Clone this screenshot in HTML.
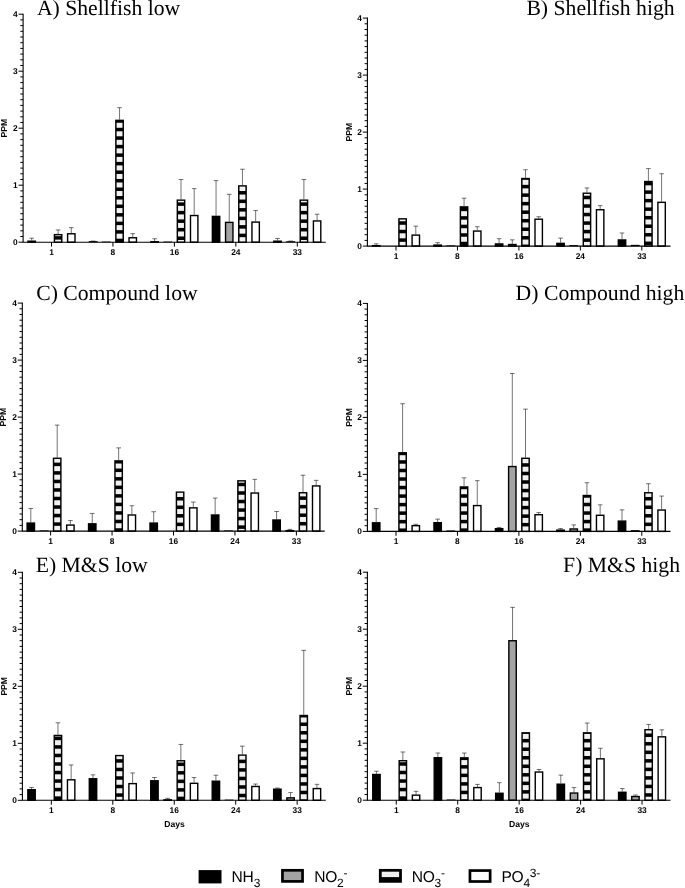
<!DOCTYPE html>
<html><head><meta charset="utf-8"><title>Figure</title>
<style>
html,body{margin:0;padding:0;background:#fff;}
svg{display:block;will-change:transform;}
text{text-rendering:geometricPrecision;}
.t{font-family:"Liberation Serif","Times New Roman",serif;font-size:21.7px;fill:#000;}
.k{font-family:"Liberation Sans",Arial,sans-serif;font-weight:bold;font-size:8.4px;fill:#000;}
.l{font-family:"Liberation Sans",Arial,sans-serif;font-weight:bold;font-size:8.6px;fill:#000;}
.g{font-family:"Liberation Sans",Arial,sans-serif;font-size:15.6px;letter-spacing:-0.25px;fill:#000;}
.s{font-size:12px;}
.ax{stroke:#000;stroke-width:1.1;fill:none;}
.tk{stroke:#000;stroke-width:1;fill:none;}
.e{stroke:#000;stroke-width:0.55;fill:none;}
.b{stroke:#000;stroke-width:1.4;}
</style></head><body>
<svg width="685" height="888" viewBox="0 0 685 888">
<rect width="685" height="888" fill="#fff"/>

<g id="panelA">
<text class="t" x="36.9" y="15.1" text-anchor="start">A) Shellfish low</text>
<path class="e" d="M31.7 240.49V238.21M29.4 238.21H34M58.1 233.94V229.94M55.8 229.94H60.4M71.3 233.08V227.66M69 227.66H73.6M93.15 241.52V241.06M90.85 241.06H95.45M119.55 119.65V107.68M117.25 107.68H121.85M132.75 237.07V233.65M130.45 233.65H135.05M154.6 241.06V238.78M152.3 238.78H156.9M181 199.45V179.5M178.7 179.5H183.3M194.2 214.84V188.62M191.9 188.62H196.5M216.05 215.69V180.64M213.75 180.64H218.35M229.25 221.68V194.32M226.95 194.32H231.55M242.45 185.2V169.24M240.15 169.24H244.75M255.65 221.39V210.56M253.35 210.56H257.95M277.5 240.49V238.49M275.2 238.49H279.8M290.7 241.63V241.06M288.4 241.06H293M303.9 199.45V179.5M301.6 179.5H306.2M317.1 220.25V214.27M314.8 214.27H319.4"/>
<rect class="b" x="28" y="241.19" width="7.4" height="1.01" fill="#000"/>
<rect class="b" x="54.4" y="234.63" width="7.4" height="7.56" fill="#000"/>
<g fill="#f1f1f1"><rect x="55.15" y="239.63" width="5.9" height="1.97"/><rect x="55.15" y="235.34" width="5.9" height="0.77"/></g>
<rect class="b" x="67.6" y="233.78" width="7.4" height="8.42" fill="#fff"/>
<rect x="88.75" y="241.12" width="8.8" height="1.08" fill="#000"/>
<rect x="101.95" y="241.57" width="8.8" height="0.63" fill="#000"/>
<rect class="b" x="115.85" y="120.35" width="7.4" height="121.85" fill="#000"/>
<g fill="#f1f1f1"><rect x="116.6" y="233.67" width="5.9" height="5"/><rect x="116.6" y="225.14" width="5.9" height="5"/><rect x="116.6" y="216.61" width="5.9" height="5"/><rect x="116.6" y="208.08" width="5.9" height="5"/><rect x="116.6" y="199.55" width="5.9" height="5"/><rect x="116.6" y="191.02" width="5.9" height="5"/><rect x="116.6" y="182.49" width="5.9" height="5"/><rect x="116.6" y="173.96" width="5.9" height="5"/><rect x="116.6" y="165.43" width="5.9" height="5"/><rect x="116.6" y="156.9" width="5.9" height="5"/><rect x="116.6" y="148.37" width="5.9" height="5"/><rect x="116.6" y="139.84" width="5.9" height="5"/><rect x="116.6" y="131.31" width="5.9" height="5"/><rect x="116.6" y="122.78" width="5.9" height="5"/></g>
<rect class="b" x="129.05" y="237.77" width="7.4" height="4.43" fill="#fff"/>
<rect class="b" x="150.9" y="241.76" width="7.4" height="0.44" fill="#000"/>
<rect x="163.4" y="241.57" width="8.8" height="0.63" fill="#000"/>
<rect class="b" x="177.3" y="200.15" width="7.4" height="42.05" fill="#000"/>
<g fill="#f1f1f1"><rect x="178.05" y="240" width="5.9" height="1.6"/><rect x="178.05" y="231.47" width="5.9" height="5"/><rect x="178.05" y="222.94" width="5.9" height="5"/><rect x="178.05" y="214.41" width="5.9" height="5"/><rect x="178.05" y="205.88" width="5.9" height="5"/><rect x="178.05" y="200.85" width="5.9" height="1.5"/></g>
<rect class="b" x="190.5" y="215.54" width="7.4" height="26.66" fill="#fff"/>
<rect class="b" x="212.35" y="216.39" width="7.4" height="25.81" fill="#000"/>
<rect class="b" x="225.55" y="222.38" width="7.4" height="19.82" fill="#a3a3a3"/>
<rect class="b" x="238.75" y="185.9" width="7.4" height="56.3" fill="#000"/>
<g fill="#f1f1f1"><rect x="239.5" y="237.19" width="5.9" height="4.41"/><rect x="239.5" y="228.66" width="5.9" height="5"/><rect x="239.5" y="220.13" width="5.9" height="5"/><rect x="239.5" y="211.6" width="5.9" height="5"/><rect x="239.5" y="203.07" width="5.9" height="5"/><rect x="239.5" y="194.54" width="5.9" height="5"/><rect x="239.5" y="186.6" width="5.9" height="4.41"/></g>
<rect class="b" x="251.95" y="222.09" width="7.4" height="20.11" fill="#fff"/>
<rect class="b" x="273.8" y="241.19" width="7.4" height="1.01" fill="#000"/>
<rect x="286.3" y="241.23" width="8.8" height="0.97" fill="#000"/>
<rect class="b" x="300.2" y="200.15" width="7.4" height="42.05" fill="#000"/>
<g fill="#f1f1f1"><rect x="300.95" y="240" width="5.9" height="1.6"/><rect x="300.95" y="231.47" width="5.9" height="5"/><rect x="300.95" y="222.94" width="5.9" height="5"/><rect x="300.95" y="214.41" width="5.9" height="5"/><rect x="300.95" y="205.88" width="5.9" height="5"/><rect x="300.95" y="200.85" width="5.9" height="1.5"/></g>
<rect class="b" x="313.4" y="220.95" width="7.4" height="21.25" fill="#fff"/>
<path class="ax" d="M23.1 13.7V242.2H325.8"/>
<path class="tk" d="M23.1 242.2H18.5M23.1 236.5H20.3M23.1 230.8H20.3M23.1 225.1H20.3M23.1 219.4H20.3M23.1 213.7H20.3M23.1 208H20.3M23.1 202.3H20.3M23.1 196.6H20.3M23.1 190.9H20.3M23.1 185.2H18.5M23.1 179.5H20.3M23.1 173.8H20.3M23.1 168.1H20.3M23.1 162.4H20.3M23.1 156.7H20.3M23.1 151H20.3M23.1 145.3H20.3M23.1 139.6H20.3M23.1 133.9H20.3M23.1 128.2H18.5M23.1 122.5H20.3M23.1 116.8H20.3M23.1 111.1H20.3M23.1 105.4H20.3M23.1 99.7H20.3M23.1 94H20.3M23.1 88.3H20.3M23.1 82.6H20.3M23.1 76.9H20.3M23.1 71.2H18.5M23.1 65.5H20.3M23.1 59.8H20.3M23.1 54.1H20.3M23.1 48.4H20.3M23.1 42.7H20.3M23.1 37H20.3M23.1 31.3H20.3M23.1 25.6H20.3M23.1 19.9H20.3M23.1 14.2H18.5M51.5 242.2V246.6M112.95 242.2V246.6M174.4 242.2V246.6M235.85 242.2V246.6M297.3 242.2V246.6"/>
<text class="k" x="17.6" y="245.15" text-anchor="end">0</text>
<text class="k" x="17.6" y="188.15" text-anchor="end">1</text>
<text class="k" x="17.6" y="131.15" text-anchor="end">2</text>
<text class="k" x="17.6" y="74.15" text-anchor="end">3</text>
<text class="k" x="17.6" y="17.15" text-anchor="end">4</text>
<text class="k" x="51.5" y="255.1" text-anchor="middle">1</text>
<text class="k" x="112.95" y="255.1" text-anchor="middle">8</text>
<text class="k" x="174.4" y="255.1" text-anchor="middle">16</text>
<text class="k" x="235.85" y="255.1" text-anchor="middle">24</text>
<text class="k" x="297.3" y="255.1" text-anchor="middle">33</text>
<text class="l" transform="translate(7.2 128.2) rotate(-90)" text-anchor="middle">PPM</text>
</g>
<g id="panelB">
<text class="t" x="674.6" y="15.1" text-anchor="end">B) Shellfish high</text>
<path class="e" d="M376.2 244.96V243.82M373.9 243.82H378.5M415.8 234.41V226.15M413.5 226.15H418.1M437.65 244.39V242.68M435.35 242.68H439.95M464.05 206.2V198.22M461.75 198.22H466.35M477.25 230.37V226.72M474.95 226.72H479.55M499.1 243.25V238.69M496.8 238.69H501.4M512.3 243.82V239.83M510 239.83H514.6M525.5 177.81V169.72M523.2 169.72H527.8M538.7 218.51V216.75M536.4 216.75H541M560.55 242.68V238.12M558.25 238.12H562.85M586.95 192.52V187.96M584.65 187.96H589.25M600.15 209.05V205.63M597.85 205.63H602.45M622 239.26V232.99M619.7 232.99H624.3M648.4 180.83V168.58M646.1 168.58H650.7M661.6 201.64V173.71M659.3 173.71H663.9"/>
<rect class="b" x="372.5" y="245.66" width="7.4" height="0.44" fill="#000"/>
<rect class="b" x="398.9" y="218.87" width="7.4" height="27.23" fill="#000"/>
<g fill="#f1f1f1"><rect x="399.65" y="241.84" width="5.9" height="3.66"/><rect x="399.65" y="233.31" width="5.9" height="5"/><rect x="399.65" y="224.78" width="5.9" height="5"/><rect x="399.65" y="219.57" width="5.9" height="1.68"/></g>
<rect class="b" x="412.1" y="235.11" width="7.4" height="10.98" fill="#fff"/>
<rect class="b" x="433.95" y="245.09" width="7.4" height="1.01" fill="#000"/>
<rect x="446.45" y="245.41" width="8.8" height="0.69" fill="#000"/>
<rect class="b" x="460.35" y="206.9" width="7.4" height="39.2" fill="#000"/>
<g fill="#f1f1f1"><rect x="461.1" y="236.75" width="5.9" height="5"/><rect x="461.1" y="228.22" width="5.9" height="5"/><rect x="461.1" y="219.69" width="5.9" height="5"/><rect x="461.1" y="211.16" width="5.9" height="5"/></g>
<rect class="b" x="473.55" y="231.07" width="7.4" height="15.03" fill="#fff"/>
<rect class="b" x="495.4" y="243.95" width="7.4" height="2.15" fill="#000"/>
<rect class="b" x="508.6" y="244.52" width="7.4" height="1.58" fill="#a3a3a3"/>
<rect class="b" x="521.8" y="178.51" width="7.4" height="67.59" fill="#000"/>
<g fill="#f1f1f1"><rect x="522.55" y="239.55" width="5.9" height="5"/><rect x="522.55" y="231.02" width="5.9" height="5"/><rect x="522.55" y="222.49" width="5.9" height="5"/><rect x="522.55" y="213.96" width="5.9" height="5"/><rect x="522.55" y="205.43" width="5.9" height="5"/><rect x="522.55" y="196.9" width="5.9" height="5"/><rect x="522.55" y="188.37" width="5.9" height="5"/><rect x="522.55" y="179.84" width="5.9" height="5"/></g>
<rect class="b" x="535" y="219.21" width="7.4" height="26.89" fill="#fff"/>
<rect class="b" x="556.85" y="243.38" width="7.4" height="2.72" fill="#000"/>
<rect x="569.35" y="245.13" width="8.8" height="0.97" fill="#000"/>
<rect class="b" x="583.25" y="193.22" width="7.4" height="52.88" fill="#000"/>
<g fill="#f1f1f1"><rect x="584" y="241.9" width="5.9" height="3.6"/><rect x="584" y="233.37" width="5.9" height="5"/><rect x="584" y="224.84" width="5.9" height="5"/><rect x="584" y="216.31" width="5.9" height="5"/><rect x="584" y="207.78" width="5.9" height="5"/><rect x="584" y="199.25" width="5.9" height="5"/><rect x="584" y="193.92" width="5.9" height="1.8"/></g>
<rect class="b" x="596.45" y="209.75" width="7.4" height="36.35" fill="#fff"/>
<rect class="b" x="618.3" y="239.96" width="7.4" height="6.14" fill="#000"/>
<rect x="630.8" y="244.84" width="8.8" height="1.25" fill="#000"/>
<rect class="b" x="644.7" y="181.53" width="7.4" height="64.56" fill="#000"/>
<g fill="#f1f1f1"><rect x="645.45" y="245.06" width="5.9" height="0.44"/><rect x="645.45" y="236.53" width="5.9" height="5"/><rect x="645.45" y="228" width="5.9" height="5"/><rect x="645.45" y="219.47" width="5.9" height="5"/><rect x="645.45" y="210.94" width="5.9" height="5"/><rect x="645.45" y="202.41" width="5.9" height="5"/><rect x="645.45" y="193.88" width="5.9" height="5"/><rect x="645.45" y="185.35" width="5.9" height="5"/></g>
<rect class="b" x="657.9" y="202.34" width="7.4" height="43.76" fill="#fff"/>
<path class="ax" d="M367.4 17.6V246.1H670.5"/>
<path class="tk" d="M367.4 246.1H362.8M367.4 240.4H364.6M367.4 234.7H364.6M367.4 229H364.6M367.4 223.3H364.6M367.4 217.6H364.6M367.4 211.9H364.6M367.4 206.2H364.6M367.4 200.5H364.6M367.4 194.8H364.6M367.4 189.1H362.8M367.4 183.4H364.6M367.4 177.7H364.6M367.4 172H364.6M367.4 166.3H364.6M367.4 160.6H364.6M367.4 154.9H364.6M367.4 149.2H364.6M367.4 143.5H364.6M367.4 137.8H364.6M367.4 132.1H362.8M367.4 126.4H364.6M367.4 120.7H364.6M367.4 115H364.6M367.4 109.3H364.6M367.4 103.6H364.6M367.4 97.9H364.6M367.4 92.2H364.6M367.4 86.5H364.6M367.4 80.8H364.6M367.4 75.1H362.8M367.4 69.4H364.6M367.4 63.7H364.6M367.4 58H364.6M367.4 52.3H364.6M367.4 46.6H364.6M367.4 40.9H364.6M367.4 35.2H364.6M367.4 29.5H364.6M367.4 23.8H364.6M367.4 18.1H362.8M396 246.1V250.5M457.45 246.1V250.5M518.9 246.1V250.5M580.35 246.1V250.5M641.8 246.1V250.5"/>
<text class="k" x="361.9" y="249.05" text-anchor="end">0</text>
<text class="k" x="361.9" y="192.05" text-anchor="end">1</text>
<text class="k" x="361.9" y="135.05" text-anchor="end">2</text>
<text class="k" x="361.9" y="78.05" text-anchor="end">3</text>
<text class="k" x="361.9" y="21.05" text-anchor="end">4</text>
<text class="k" x="396" y="259" text-anchor="middle">1</text>
<text class="k" x="457.45" y="259" text-anchor="middle">8</text>
<text class="k" x="518.9" y="259" text-anchor="middle">16</text>
<text class="k" x="580.35" y="259" text-anchor="middle">24</text>
<text class="k" x="641.8" y="259" text-anchor="middle">33</text>
<text class="l" transform="translate(351.5 132.1) rotate(-90)" text-anchor="middle">PPM</text>
</g>
<g id="panelC">
<text class="t" x="36.2" y="300.4" text-anchor="start">C) Compound low</text>
<path class="e" d="M30.8 522.38V508.47M28.5 508.47H33.1M57.2 457.57V425.08M54.9 425.08H59.5M70.4 524.37V520.56M68.1 520.56H72.7M92.25 523.12V513.43M89.95 513.43H94.55M118.65 460.19V447.88M116.35 447.88H120.95M131.85 514.29V505.74M129.55 505.74H134.15M153.7 522.38V511.72M151.4 511.72H156M193.3 507.16V502.03M191 502.03H195.6M215.15 514.29V498.04M212.85 498.04H217.45M254.75 492.34V479.34M252.45 479.34H257.05M276.6 519.3V511.49M274.3 511.49H278.9M289.8 529.96V529.39M287.5 529.39H292.1M303 492.06V475.24M300.7 475.24H305.3M316.2 485.22V480.37M313.9 480.37H318.5"/>
<rect class="b" x="27.1" y="523.08" width="7.4" height="8.02" fill="#000"/>
<rect x="39.6" y="530.42" width="8.8" height="0.69" fill="#000"/>
<rect class="b" x="53.5" y="458.27" width="7.4" height="72.83" fill="#000"/>
<g fill="#f1f1f1"><rect x="54.25" y="525.86" width="5.9" height="4.64"/><rect x="54.25" y="517.33" width="5.9" height="5"/><rect x="54.25" y="508.8" width="5.9" height="5"/><rect x="54.25" y="500.27" width="5.9" height="5"/><rect x="54.25" y="491.74" width="5.9" height="5"/><rect x="54.25" y="483.21" width="5.9" height="5"/><rect x="54.25" y="474.68" width="5.9" height="5"/><rect x="54.25" y="466.15" width="5.9" height="5"/><rect x="54.25" y="458.97" width="5.9" height="3.65"/></g>
<rect class="b" x="66.7" y="525.07" width="7.4" height="6.03" fill="#fff"/>
<rect class="b" x="88.55" y="523.82" width="7.4" height="7.28" fill="#000"/>
<rect class="b" x="114.95" y="460.89" width="7.4" height="70.21" fill="#000"/>
<g fill="#f1f1f1"><rect x="115.7" y="523.24" width="5.9" height="5"/><rect x="115.7" y="514.71" width="5.9" height="5"/><rect x="115.7" y="506.18" width="5.9" height="5"/><rect x="115.7" y="497.65" width="5.9" height="5"/><rect x="115.7" y="489.12" width="5.9" height="5"/><rect x="115.7" y="480.59" width="5.9" height="5"/><rect x="115.7" y="472.06" width="5.9" height="5"/><rect x="115.7" y="463.53" width="5.9" height="5"/></g>
<rect class="b" x="128.15" y="514.99" width="7.4" height="16.11" fill="#fff"/>
<rect class="b" x="150" y="523.08" width="7.4" height="8.02" fill="#000"/>
<rect class="b" x="176.4" y="492.13" width="7.4" height="38.97" fill="#000"/>
<g fill="#f1f1f1"><rect x="177.15" y="526.12" width="5.9" height="4.38"/><rect x="177.15" y="517.59" width="5.9" height="5"/><rect x="177.15" y="509.06" width="5.9" height="5"/><rect x="177.15" y="500.53" width="5.9" height="5"/><rect x="177.15" y="492.83" width="5.9" height="4.17"/></g>
<rect class="b" x="189.6" y="507.86" width="7.4" height="23.24" fill="#fff"/>
<rect class="b" x="211.45" y="514.99" width="7.4" height="16.11" fill="#000"/>
<rect x="223.95" y="530.42" width="8.8" height="0.69" fill="#000"/>
<rect class="b" x="237.85" y="480.84" width="7.4" height="50.26" fill="#000"/>
<g fill="#f1f1f1"><rect x="238.6" y="528.88" width="5.9" height="1.62"/><rect x="238.6" y="520.35" width="5.9" height="5"/><rect x="238.6" y="511.82" width="5.9" height="5"/><rect x="238.6" y="503.29" width="5.9" height="5"/><rect x="238.6" y="494.76" width="5.9" height="5"/><rect x="238.6" y="486.23" width="5.9" height="5"/><rect x="238.6" y="481.54" width="5.9" height="1.16"/></g>
<rect class="b" x="251.05" y="493.04" width="7.4" height="38.06" fill="#fff"/>
<rect class="b" x="272.9" y="520" width="7.4" height="11.1" fill="#000"/>
<rect class="b" x="286.1" y="530.66" width="7.4" height="0.44" fill="#a3a3a3"/>
<rect class="b" x="299.3" y="492.75" width="7.4" height="38.34" fill="#000"/>
<g fill="#f1f1f1"><rect x="300.05" y="525.5" width="5.9" height="5"/><rect x="300.05" y="516.97" width="5.9" height="5"/><rect x="300.05" y="508.44" width="5.9" height="5"/><rect x="300.05" y="499.91" width="5.9" height="5"/><rect x="300.05" y="493.45" width="5.9" height="2.92"/></g>
<rect class="b" x="312.5" y="485.92" width="7.4" height="45.19" fill="#fff"/>
<path class="ax" d="M22.3 302.6V531.1H324.7"/>
<path class="tk" d="M22.3 531.1H17.7M22.3 525.4H19.5M22.3 519.7H19.5M22.3 514H19.5M22.3 508.3H19.5M22.3 502.6H19.5M22.3 496.9H19.5M22.3 491.2H19.5M22.3 485.5H19.5M22.3 479.8H19.5M22.3 474.1H17.7M22.3 468.4H19.5M22.3 462.7H19.5M22.3 457H19.5M22.3 451.3H19.5M22.3 445.6H19.5M22.3 439.9H19.5M22.3 434.2H19.5M22.3 428.5H19.5M22.3 422.8H19.5M22.3 417.1H17.7M22.3 411.4H19.5M22.3 405.7H19.5M22.3 400H19.5M22.3 394.3H19.5M22.3 388.6H19.5M22.3 382.9H19.5M22.3 377.2H19.5M22.3 371.5H19.5M22.3 365.8H19.5M22.3 360.1H17.7M22.3 354.4H19.5M22.3 348.7H19.5M22.3 343H19.5M22.3 337.3H19.5M22.3 331.6H19.5M22.3 325.9H19.5M22.3 320.2H19.5M22.3 314.5H19.5M22.3 308.8H19.5M22.3 303.1H17.7M50.6 531.1V535.5M112.05 531.1V535.5M173.5 531.1V535.5M234.95 531.1V535.5M296.4 531.1V535.5"/>
<text class="k" x="16.8" y="534.05" text-anchor="end">0</text>
<text class="k" x="16.8" y="477.05" text-anchor="end">1</text>
<text class="k" x="16.8" y="420.05" text-anchor="end">2</text>
<text class="k" x="16.8" y="363.05" text-anchor="end">3</text>
<text class="k" x="16.8" y="306.05" text-anchor="end">4</text>
<text class="k" x="50.6" y="544" text-anchor="middle">1</text>
<text class="k" x="112.05" y="544" text-anchor="middle">8</text>
<text class="k" x="173.5" y="544" text-anchor="middle">16</text>
<text class="k" x="234.95" y="544" text-anchor="middle">24</text>
<text class="k" x="296.4" y="544" text-anchor="middle">33</text>
<text class="l" transform="translate(6.4 417.1) rotate(-90)" text-anchor="middle">PPM</text>
</g>
<g id="panelD">
<text class="t" x="684.3" y="300.4" text-anchor="end">D) Compound high</text>
<path class="e" d="M376.2 522.11V508.6M373.9 508.6H378.5M402.6 452.06V403.72M400.3 403.72H404.9M415.8 524.96V524.27M413.5 524.27H418.1M437.65 522V519.14M435.35 519.14H439.95M464.05 486.26V477.82M461.75 477.82H466.35M477.25 504.89V480.67M474.95 480.67H479.55M499.1 527.98V527.41M496.8 527.41H501.4M512.3 465.85V373.51M510 373.51H514.6M525.5 457.58V409.13M523.2 409.13H527.8M538.7 514.01V512.59M536.4 512.59H541M560.55 529.4V528.55M558.25 528.55H562.85M573.75 528.26V524.9M571.45 524.9H576.05M586.95 494.81V482.72M584.65 482.72H589.25M600.15 514.59V504.84M597.85 504.84H602.45M622 520.4V509.85M619.7 509.85H624.3M648.4 492.07V483.69M646.1 483.69H650.7M661.6 509.34V496.06M659.3 496.06H663.9"/>
<rect class="b" x="372.5" y="522.81" width="7.4" height="8.59" fill="#000"/>
<rect class="b" x="398.9" y="452.76" width="7.4" height="78.64" fill="#000"/>
<g fill="#f1f1f1"><rect x="399.65" y="523.44" width="5.9" height="5"/><rect x="399.65" y="514.91" width="5.9" height="5"/><rect x="399.65" y="506.38" width="5.9" height="5"/><rect x="399.65" y="497.85" width="5.9" height="5"/><rect x="399.65" y="489.32" width="5.9" height="5"/><rect x="399.65" y="480.79" width="5.9" height="5"/><rect x="399.65" y="472.26" width="5.9" height="5"/><rect x="399.65" y="463.73" width="5.9" height="5"/><rect x="399.65" y="455.2" width="5.9" height="5"/></g>
<rect class="b" x="412.1" y="525.66" width="7.4" height="5.74" fill="#fff"/>
<rect class="b" x="433.95" y="522.7" width="7.4" height="8.71" fill="#000"/>
<rect x="446.45" y="530.43" width="8.8" height="0.97" fill="#000"/>
<rect class="b" x="460.35" y="486.96" width="7.4" height="44.44" fill="#000"/>
<g fill="#f1f1f1"><rect x="461.1" y="523.36" width="5.9" height="5"/><rect x="461.1" y="514.83" width="5.9" height="5"/><rect x="461.1" y="506.3" width="5.9" height="5"/><rect x="461.1" y="497.77" width="5.9" height="5"/><rect x="461.1" y="489.24" width="5.9" height="5"/></g>
<rect class="b" x="473.55" y="505.59" width="7.4" height="25.81" fill="#fff"/>
<rect class="b" x="495.4" y="528.68" width="7.4" height="2.72" fill="#000"/>
<rect class="b" x="508.6" y="466.55" width="7.4" height="64.85" fill="#a3a3a3"/>
<rect class="b" x="521.8" y="458.28" width="7.4" height="73.11" fill="#000"/>
<g fill="#f1f1f1"><rect x="522.55" y="526.44" width="5.9" height="4.36"/><rect x="522.55" y="517.91" width="5.9" height="5"/><rect x="522.55" y="509.38" width="5.9" height="5"/><rect x="522.55" y="500.85" width="5.9" height="5"/><rect x="522.55" y="492.32" width="5.9" height="5"/><rect x="522.55" y="483.79" width="5.9" height="5"/><rect x="522.55" y="475.26" width="5.9" height="5"/><rect x="522.55" y="466.73" width="5.9" height="5"/><rect x="522.55" y="458.98" width="5.9" height="4.22"/></g>
<rect class="b" x="535" y="514.72" width="7.4" height="16.68" fill="#fff"/>
<rect class="b" x="556.85" y="530.11" width="7.4" height="1.3" fill="#000"/>
<rect class="b" x="570.05" y="528.97" width="7.4" height="2.44" fill="#a3a3a3"/>
<rect class="b" x="583.25" y="495.51" width="7.4" height="35.89" fill="#000"/>
<g fill="#f1f1f1"><rect x="584" y="523.34" width="5.9" height="5"/><rect x="584" y="514.81" width="5.9" height="5"/><rect x="584" y="506.28" width="5.9" height="5"/><rect x="584" y="497.75" width="5.9" height="5"/></g>
<rect class="b" x="596.45" y="515.29" width="7.4" height="16.11" fill="#fff"/>
<rect class="b" x="618.3" y="521.1" width="7.4" height="10.3" fill="#000"/>
<rect x="630.8" y="530.14" width="8.8" height="1.25" fill="#000"/>
<rect class="b" x="644.7" y="492.77" width="7.4" height="38.63" fill="#000"/>
<g fill="#f1f1f1"><rect x="645.45" y="526.08" width="5.9" height="4.72"/><rect x="645.45" y="517.55" width="5.9" height="5"/><rect x="645.45" y="509.02" width="5.9" height="5"/><rect x="645.45" y="500.49" width="5.9" height="5"/><rect x="645.45" y="493.47" width="5.9" height="3.49"/></g>
<rect class="b" x="657.9" y="510.04" width="7.4" height="21.36" fill="#fff"/>
<path class="ax" d="M367.4 302.9V531.4H670.5"/>
<path class="tk" d="M367.4 531.4H362.8M367.4 525.7H364.6M367.4 520H364.6M367.4 514.3H364.6M367.4 508.6H364.6M367.4 502.9H364.6M367.4 497.2H364.6M367.4 491.5H364.6M367.4 485.8H364.6M367.4 480.1H364.6M367.4 474.4H362.8M367.4 468.7H364.6M367.4 463H364.6M367.4 457.3H364.6M367.4 451.6H364.6M367.4 445.9H364.6M367.4 440.2H364.6M367.4 434.5H364.6M367.4 428.8H364.6M367.4 423.1H364.6M367.4 417.4H362.8M367.4 411.7H364.6M367.4 406H364.6M367.4 400.3H364.6M367.4 394.6H364.6M367.4 388.9H364.6M367.4 383.2H364.6M367.4 377.5H364.6M367.4 371.8H364.6M367.4 366.1H364.6M367.4 360.4H362.8M367.4 354.7H364.6M367.4 349H364.6M367.4 343.3H364.6M367.4 337.6H364.6M367.4 331.9H364.6M367.4 326.2H364.6M367.4 320.5H364.6M367.4 314.8H364.6M367.4 309.1H364.6M367.4 303.4H362.8M396 531.4V535.8M457.45 531.4V535.8M518.9 531.4V535.8M580.35 531.4V535.8M641.8 531.4V535.8"/>
<text class="k" x="361.9" y="534.35" text-anchor="end">0</text>
<text class="k" x="361.9" y="477.35" text-anchor="end">1</text>
<text class="k" x="361.9" y="420.35" text-anchor="end">2</text>
<text class="k" x="361.9" y="363.35" text-anchor="end">3</text>
<text class="k" x="361.9" y="306.35" text-anchor="end">4</text>
<text class="k" x="396" y="544.3" text-anchor="middle">1</text>
<text class="k" x="457.45" y="544.3" text-anchor="middle">8</text>
<text class="k" x="518.9" y="544.3" text-anchor="middle">16</text>
<text class="k" x="580.35" y="544.3" text-anchor="middle">24</text>
<text class="k" x="641.8" y="544.3" text-anchor="middle">33</text>
<text class="l" transform="translate(351.5 417.4) rotate(-90)" text-anchor="middle">PPM</text>
</g>
<g id="panelE">
<text class="t" x="35.7" y="572.2" text-anchor="start">E) M&amp;S low</text>
<path class="e" d="M31.55 789.01V787.47M29.25 787.47H33.85M57.95 734.75V722.78M55.65 722.78H60.25M71.15 779.1V764.96M68.85 764.96H73.45M93 778.07V774.82M90.7 774.82H95.3M132.6 782.91V772.94M130.3 772.94H134.9M154.45 780.06V777.5M152.15 777.5H156.75M167.65 799.16V798.3M165.35 798.3H169.95M180.85 760.06V744.44M178.55 744.44H183.15M194.05 782.63V777.5M191.75 777.5H196.35M215.9 780.52V775.22M213.6 775.22H218.2M242.3 754.41V746.15M240 746.15H244.6M255.5 785.76V784.05M253.2 784.05H257.8M277.35 788.5V788.04M275.05 788.04H279.65M290.55 797.16V792.6M288.25 792.6H292.85M303.75 714.8V650.39M301.45 650.39H306.05M316.95 787.87V784.34M314.65 784.34H319.25"/>
<rect class="b" x="27.85" y="789.71" width="7.4" height="10.59" fill="#000"/>
<rect class="b" x="54.25" y="735.45" width="7.4" height="64.85" fill="#000"/>
<g fill="#f1f1f1"><rect x="55" y="791.36" width="5.9" height="5"/><rect x="55" y="782.83" width="5.9" height="5"/><rect x="55" y="774.3" width="5.9" height="5"/><rect x="55" y="765.77" width="5.9" height="5"/><rect x="55" y="757.24" width="5.9" height="5"/><rect x="55" y="748.71" width="5.9" height="5"/><rect x="55" y="740.18" width="5.9" height="5"/><rect x="55" y="736.15" width="5.9" height="0.5"/></g>
<rect class="b" x="67.45" y="779.8" width="7.4" height="20.5" fill="#fff"/>
<rect class="b" x="89.3" y="778.77" width="7.4" height="21.53" fill="#000"/>
<rect class="b" x="115.7" y="755.57" width="7.4" height="44.73" fill="#000"/>
<g fill="#f1f1f1"><rect x="116.45" y="796.83" width="5.9" height="2.87"/><rect x="116.45" y="788.3" width="5.9" height="5"/><rect x="116.45" y="779.77" width="5.9" height="5"/><rect x="116.45" y="771.24" width="5.9" height="5"/><rect x="116.45" y="762.71" width="5.9" height="5"/><rect x="116.45" y="756.27" width="5.9" height="2.91"/></g>
<rect class="b" x="128.9" y="783.62" width="7.4" height="16.68" fill="#fff"/>
<rect class="b" x="150.75" y="780.76" width="7.4" height="19.54" fill="#000"/>
<rect class="b" x="163.95" y="799.86" width="7.4" height="0.44" fill="#a3a3a3"/>
<rect class="b" x="177.15" y="760.76" width="7.4" height="39.54" fill="#000"/>
<g fill="#f1f1f1"><rect x="177.9" y="791.64" width="5.9" height="5"/><rect x="177.9" y="783.11" width="5.9" height="5"/><rect x="177.9" y="774.58" width="5.9" height="5"/><rect x="177.9" y="766.05" width="5.9" height="5"/><rect x="177.9" y="761.46" width="5.9" height="1.06"/></g>
<rect class="b" x="190.35" y="783.33" width="7.4" height="16.97" fill="#fff"/>
<rect class="b" x="212.2" y="781.22" width="7.4" height="19.08" fill="#000"/>
<rect x="224.7" y="799.62" width="8.8" height="0.69" fill="#000"/>
<rect class="b" x="238.6" y="755.12" width="7.4" height="45.19" fill="#000"/>
<g fill="#f1f1f1"><rect x="239.35" y="797.28" width="5.9" height="2.41"/><rect x="239.35" y="788.75" width="5.9" height="5"/><rect x="239.35" y="780.23" width="5.9" height="5"/><rect x="239.35" y="771.69" width="5.9" height="5"/><rect x="239.35" y="763.16" width="5.9" height="5"/><rect x="239.35" y="755.81" width="5.9" height="3.82"/></g>
<rect class="b" x="251.8" y="786.47" width="7.4" height="13.84" fill="#fff"/>
<rect class="b" x="273.65" y="789.2" width="7.4" height="11.1" fill="#000"/>
<rect class="b" x="286.85" y="797.87" width="7.4" height="2.44" fill="#a3a3a3"/>
<rect class="b" x="300.05" y="715.5" width="7.4" height="84.8" fill="#000"/>
<g fill="#f1f1f1"><rect x="300.8" y="794.25" width="5.9" height="5"/><rect x="300.8" y="785.72" width="5.9" height="5"/><rect x="300.8" y="777.19" width="5.9" height="5"/><rect x="300.8" y="768.66" width="5.9" height="5"/><rect x="300.8" y="760.13" width="5.9" height="5"/><rect x="300.8" y="751.6" width="5.9" height="5"/><rect x="300.8" y="743.07" width="5.9" height="5"/><rect x="300.8" y="734.54" width="5.9" height="5"/><rect x="300.8" y="726.01" width="5.9" height="5"/><rect x="300.8" y="717.48" width="5.9" height="5"/></g>
<rect class="b" x="313.25" y="788.57" width="7.4" height="11.73" fill="#fff"/>
<path class="ax" d="M22.4 571.8V800.3H325.8"/>
<path class="tk" d="M22.4 800.3H17.8M22.4 794.6H19.6M22.4 788.9H19.6M22.4 783.2H19.6M22.4 777.5H19.6M22.4 771.8H19.6M22.4 766.1H19.6M22.4 760.4H19.6M22.4 754.7H19.6M22.4 749H19.6M22.4 743.3H17.8M22.4 737.6H19.6M22.4 731.9H19.6M22.4 726.2H19.6M22.4 720.5H19.6M22.4 714.8H19.6M22.4 709.1H19.6M22.4 703.4H19.6M22.4 697.7H19.6M22.4 692H19.6M22.4 686.3H17.8M22.4 680.6H19.6M22.4 674.9H19.6M22.4 669.2H19.6M22.4 663.5H19.6M22.4 657.8H19.6M22.4 652.1H19.6M22.4 646.4H19.6M22.4 640.7H19.6M22.4 635H19.6M22.4 629.3H17.8M22.4 623.6H19.6M22.4 617.9H19.6M22.4 612.2H19.6M22.4 606.5H19.6M22.4 600.8H19.6M22.4 595.1H19.6M22.4 589.4H19.6M22.4 583.7H19.6M22.4 578H19.6M22.4 572.3H17.8M51.35 800.3V804.7M112.8 800.3V804.7M174.25 800.3V804.7M235.7 800.3V804.7M297.15 800.3V804.7"/>
<text class="k" x="16.9" y="803.25" text-anchor="end">0</text>
<text class="k" x="16.9" y="746.25" text-anchor="end">1</text>
<text class="k" x="16.9" y="689.25" text-anchor="end">2</text>
<text class="k" x="16.9" y="632.25" text-anchor="end">3</text>
<text class="k" x="16.9" y="575.25" text-anchor="end">4</text>
<text class="k" x="51.35" y="813.2" text-anchor="middle">1</text>
<text class="k" x="112.8" y="813.2" text-anchor="middle">8</text>
<text class="k" x="174.25" y="813.2" text-anchor="middle">16</text>
<text class="k" x="235.7" y="813.2" text-anchor="middle">24</text>
<text class="k" x="297.15" y="813.2" text-anchor="middle">33</text>
<text class="l" transform="translate(6.5 686.3) rotate(-90)" text-anchor="middle">PPM</text>
<text class="l" x="174.45" y="826.6" text-anchor="middle">Days</text>
</g>
<g id="panelF">
<text class="t" x="680" y="571.8" text-anchor="end">F) M&amp;S high</text>
<path class="e" d="M376.45 773.8V771.21M374.15 771.21H378.75M402.85 760.02V751.98M400.55 751.98H405.15M416.05 794.46V791.3M413.75 791.3H418.35M437.9 757.04V753.02M435.6 753.02H440.2M464.3 757.15V753.02M462 753.02H466.6M477.5 786.88V784.42M475.2 784.42H479.8M499.35 792.57V782.69M497.05 782.69H501.65M512.55 640.05V607.34M510.25 607.34H514.85M538.95 771.33V769.49M536.65 769.49H541.25M560.8 783.5V775.12M558.5 775.12H563.1M574 792.34V787.57M571.7 787.57H576.3M587.2 732.12V723M584.9 723H589.5M600.4 758.13V748.25M598.1 748.25H602.7M622.25 791.59V788.55M619.95 788.55H624.55M635.45 795.84V795.03M633.15 795.03H637.75M648.65 729.02V724.43M646.35 724.43H650.95M661.85 736.14V729.83M659.55 729.83H664.15"/>
<rect class="b" x="372.75" y="774.5" width="7.4" height="25.7" fill="#000"/>
<rect class="b" x="399.15" y="760.72" width="7.4" height="39.48" fill="#000"/>
<g fill="#f1f1f1"><rect x="399.9" y="791.33" width="5.9" height="5"/><rect x="399.9" y="782.8" width="5.9" height="5"/><rect x="399.9" y="774.27" width="5.9" height="5"/><rect x="399.9" y="765.74" width="5.9" height="5"/><rect x="399.9" y="761.42" width="5.9" height="0.79"/></g>
<rect class="b" x="412.35" y="795.16" width="7.4" height="5.04" fill="#fff"/>
<rect class="b" x="434.2" y="757.74" width="7.4" height="42.46" fill="#000"/>
<rect x="446.7" y="799.51" width="8.8" height="0.69" fill="#000"/>
<rect class="b" x="460.6" y="757.85" width="7.4" height="42.35" fill="#000"/>
<g fill="#f1f1f1"><rect x="461.35" y="794.2" width="5.9" height="5"/><rect x="461.35" y="785.67" width="5.9" height="5"/><rect x="461.35" y="777.14" width="5.9" height="5"/><rect x="461.35" y="768.61" width="5.9" height="5"/><rect x="461.35" y="760.08" width="5.9" height="5"/></g>
<rect class="b" x="473.8" y="787.58" width="7.4" height="12.62" fill="#fff"/>
<rect class="b" x="495.65" y="793.27" width="7.4" height="6.93" fill="#000"/>
<rect class="b" x="508.85" y="640.75" width="7.4" height="159.45" fill="#a3a3a3"/>
<rect class="b" x="522.05" y="732.82" width="7.4" height="67.38" fill="#000"/>
<g fill="#f1f1f1"><rect x="522.8" y="793.64" width="5.9" height="5"/><rect x="522.8" y="785.11" width="5.9" height="5"/><rect x="522.8" y="776.58" width="5.9" height="5"/><rect x="522.8" y="768.05" width="5.9" height="5"/><rect x="522.8" y="759.52" width="5.9" height="5"/><rect x="522.8" y="750.99" width="5.9" height="5"/><rect x="522.8" y="742.46" width="5.9" height="5"/><rect x="522.8" y="733.93" width="5.9" height="5"/></g>
<rect class="b" x="535.25" y="772.03" width="7.4" height="28.17" fill="#fff"/>
<rect class="b" x="557.1" y="784.2" width="7.4" height="16" fill="#000"/>
<rect class="b" x="570.3" y="793.04" width="7.4" height="7.16" fill="#a3a3a3"/>
<rect class="b" x="583.5" y="732.82" width="7.4" height="67.38" fill="#000"/>
<g fill="#f1f1f1"><rect x="584.25" y="793.64" width="5.9" height="5"/><rect x="584.25" y="785.11" width="5.9" height="5"/><rect x="584.25" y="776.58" width="5.9" height="5"/><rect x="584.25" y="768.05" width="5.9" height="5"/><rect x="584.25" y="759.52" width="5.9" height="5"/><rect x="584.25" y="750.99" width="5.9" height="5"/><rect x="584.25" y="742.46" width="5.9" height="5"/><rect x="584.25" y="733.93" width="5.9" height="5"/></g>
<rect class="b" x="596.7" y="758.83" width="7.4" height="41.37" fill="#fff"/>
<rect class="b" x="618.55" y="792.29" width="7.4" height="7.91" fill="#000"/>
<rect class="b" x="631.75" y="796.54" width="7.4" height="3.66" fill="#a3a3a3"/>
<rect class="b" x="644.95" y="729.72" width="7.4" height="70.48" fill="#000"/>
<g fill="#f1f1f1"><rect x="645.7" y="796.74" width="5.9" height="2.86"/><rect x="645.7" y="788.21" width="5.9" height="5"/><rect x="645.7" y="779.68" width="5.9" height="5"/><rect x="645.7" y="771.15" width="5.9" height="5"/><rect x="645.7" y="762.62" width="5.9" height="5"/><rect x="645.7" y="754.09" width="5.9" height="5"/><rect x="645.7" y="745.56" width="5.9" height="5"/><rect x="645.7" y="737.03" width="5.9" height="5"/><rect x="645.7" y="730.42" width="5.9" height="3.07"/></g>
<rect class="b" x="658.15" y="736.84" width="7.4" height="63.36" fill="#fff"/>
<path class="ax" d="M367.4 571.7V800.2H670.5"/>
<path class="tk" d="M367.4 800.2H362.8M367.4 794.5H364.6M367.4 788.8H364.6M367.4 783.1H364.6M367.4 777.4H364.6M367.4 771.7H364.6M367.4 766H364.6M367.4 760.3H364.6M367.4 754.6H364.6M367.4 748.9H364.6M367.4 743.2H362.8M367.4 737.5H364.6M367.4 731.8H364.6M367.4 726.1H364.6M367.4 720.4H364.6M367.4 714.7H364.6M367.4 709H364.6M367.4 703.3H364.6M367.4 697.6H364.6M367.4 691.9H364.6M367.4 686.2H362.8M367.4 680.5H364.6M367.4 674.8H364.6M367.4 669.1H364.6M367.4 663.4H364.6M367.4 657.7H364.6M367.4 652H364.6M367.4 646.3H364.6M367.4 640.6H364.6M367.4 634.9H364.6M367.4 629.2H362.8M367.4 623.5H364.6M367.4 617.8H364.6M367.4 612.1H364.6M367.4 606.4H364.6M367.4 600.7H364.6M367.4 595H364.6M367.4 589.3H364.6M367.4 583.6H364.6M367.4 577.9H364.6M367.4 572.2H362.8M396.25 800.2V804.6M457.7 800.2V804.6M519.15 800.2V804.6M580.6 800.2V804.6M642.05 800.2V804.6"/>
<text class="k" x="361.9" y="803.15" text-anchor="end">0</text>
<text class="k" x="361.9" y="746.15" text-anchor="end">1</text>
<text class="k" x="361.9" y="689.15" text-anchor="end">2</text>
<text class="k" x="361.9" y="632.15" text-anchor="end">3</text>
<text class="k" x="361.9" y="575.15" text-anchor="end">4</text>
<text class="k" x="396.25" y="813.1" text-anchor="middle">1</text>
<text class="k" x="457.7" y="813.1" text-anchor="middle">8</text>
<text class="k" x="519.15" y="813.1" text-anchor="middle">16</text>
<text class="k" x="580.6" y="813.1" text-anchor="middle">24</text>
<text class="k" x="642.05" y="813.1" text-anchor="middle">33</text>
<text class="l" transform="translate(351.5 686.2) rotate(-90)" text-anchor="middle">PPM</text>
<text class="l" x="519.35" y="826.5" text-anchor="middle">Days</text>
</g>
<g id="legend">
<rect x="198.6" y="870.1" width="22.9" height="13.3" fill="#000"/>
<text class="g" x="231.6" y="882.4">NH<tspan class="s" dy="4.6">3</tspan></text>
<rect x="282.45" y="870.3" width="20.1" height="11.1" fill="#a3a3a3" stroke="#000" stroke-width="2.7"/>
<text class="g" x="314.2" y="882.4">NO<tspan class="s" dy="4.6">2</tspan><tspan class="s" dy="-9.6">-</tspan></text>
<rect x="380.25" y="870.3" width="20.3" height="11.1" fill="#000" stroke="#000" stroke-width="2.7"/>
<rect x="381.7" y="871.7" width="17.4" height="5.4" fill="#eee"/>
<text class="g" x="411.7" y="882.4">NO<tspan class="s" dy="4.6">3</tspan><tspan class="s" dy="-9.6">-</tspan></text>
<rect x="469.95" y="870.55" width="20.2" height="10.95" fill="#fff" stroke="#000" stroke-width="2.7"/>
<text class="g" x="501.4" y="882.4">PO<tspan class="s" dy="4.6">4</tspan><tspan class="s" dy="-9.6">3-</tspan></text>
</g>
</svg>
</body></html>
